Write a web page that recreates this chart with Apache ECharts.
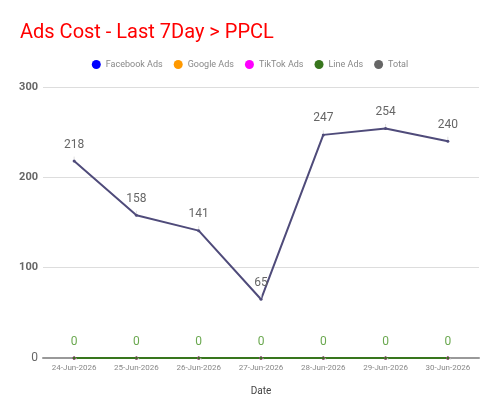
<!DOCTYPE html>
<html>
<head>
<meta charset="utf-8">
<script src="https://cdn.jsdelivr.net/npm/echarts@6/dist/echarts.min.js"></script>
<style>
  html, body { margin: 0; padding: 0; background: #fff; }
  #main { width: 500px; height: 415px; }
</style>
</head>
<body>
<div id="main"></div>
<script>
// data
var dates = ['24-Jun-2026', '25-Jun-2026', '26-Jun-2026', '27-Jun-2026', '28-Jun-2026', '29-Jun-2026', '30-Jun-2026'];
var facebookAds = [0, 0, 0, 0, 0, 0, 0];
var googleAds = [0, 0, 0, 0, 0, 0, 0];
var tiktokAds = [0, 0, 0, 0, 0, 0, 0];
var lineAds = [0, 0, 0, 0, 0, 0, 0];
var total = [218, 158, 141, 65, 247, 254, 240];

var myChart = echarts.init(document.getElementById('main'));

function zeroSeries(name, data, color, showLabel) {
    return {
        name: name,
        type: 'line',
        data: data,
        symbol: 'circle',
        symbolSize: 3,
        itemStyle: { color: color },
        lineStyle: { color: color, width: 2 },
        label: {
            show: showLabel,
            position: 'top',
            distance: 9,
            color: '#6aa84f',
            fontSize: 12
        },
        labelLine: { show: showLabel, lineStyle: { color: '#e0e0e0', width: 1 } }
    };
}

var option = {
    textStyle: { fontFamily: 'Roboto' },
    title: {
        text: 'Ads Cost - Last 7Day > PPCL',
        left: 15,
        top: 18,
        textStyle: { color: '#ff0000', fontSize: 20, fontWeight: 'normal', fontFamily: 'Roboto' }
    },
    legend: {
        top: 55,
        left: 'center',
        icon: 'circle',
        itemWidth: 9,
        itemHeight: 9,
        itemGap: 11,
        textStyle: { color: '#888', fontSize: 9 },
        data: ['Facebook Ads', 'Google Ads', 'TikTok Ads', 'Line Ads',
            { name: 'Total', itemStyle: { color: '#666666' } }]
    },
    grid: { left: 43, right: 21, top: 87, bottom: 57 },
    xAxis: {
        type: 'category',
        data: dates,
        name: 'Date',
        nameLocation: 'middle',
        nameGap: 28,
        nameTextStyle: { color: '#444', fontSize: 10 },
        axisLine: { lineStyle: { color: '#999', width: 2 } },
        axisTick: { show: false },
        axisLabel: { color: '#888', fontSize: 8, margin: 6 }
    },
    yAxis: {
        type: 'value',
        min: 0,
        max: 300,
        interval: 100,
        axisLabel: { color: '#666', fontSize: 11, fontWeight: 'bold', margin: 5,
            formatter: function (v) { return v === 0 ? '{z|0}' : v; },
            rich: { z: { fontSize: 12, fontWeight: 'normal', color: '#666' } } },
        splitLine: { lineStyle: { color: '#dddddd' } },
        axisLine: { show: false },
        axisTick: { show: false }
    },
    series: [
        zeroSeries('Facebook Ads', facebookAds, '#0000ff', false),
        zeroSeries('Google Ads', googleAds, '#ff9900', false),
        zeroSeries('TikTok Ads', tiktokAds, '#ff00ff', false),
        zeroSeries('Line Ads', lineAds, '#38761d', true),
        {
            name: 'Total',
            type: 'line',
            data: total,
            symbol: 'circle',
            symbolSize: 3,
            itemStyle: { color: '#4f4b7a' },
            lineStyle: { color: '#4f4b7a', width: 2 },
            label: {
                show: true,
                position: 'top',
                distance: 9,
                color: '#666',
                fontSize: 12
            },
            labelLine: { show: true, lineStyle: { color: '#e0e0e0', width: 1 } }
        }
    ]
};

myChart.setOption(option);
</script>
</body>
</html>
